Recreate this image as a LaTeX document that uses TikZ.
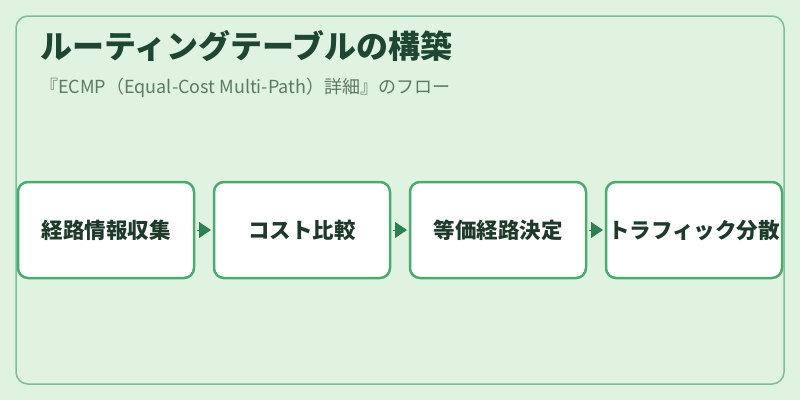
\documentclass[tikz,border=0pt]{standalone}
\usepackage{fontspec}
\setmainfont{Noto Sans CJK JP}
\usetikzlibrary{positioning, arrows.meta}
\definecolor{bgcol}{HTML}{E0F2E0}
\definecolor{framecol}{HTML}{7DBE96}
\definecolor{boxcol}{HTML}{4CAA6E}
\definecolor{arrowcol}{HTML}{2E8050}
\definecolor{titlecol}{HTML}{1E4632}
\definecolor{subcol}{HTML}{5B7B65}
\definecolor{textcol}{HTML}{1E3A2A}

\begin{document}
\begin{tikzpicture}[
  x=1pt, y=1pt,
  node distance=20pt,
  stage/.style={rectangle, rounded corners=10pt, draw=boxcol, fill=white,
    line width=2.5pt, minimum width=176pt, minimum height=96pt, outer sep=0pt,
    inner sep=0pt, text=textcol, font=\fontsize{21.5}{26}\selectfont\bfseries},
  flow/.style={-{Triangle[length=12pt, width=16pt]}, line width=1pt,
    draw=arrowcol, fill=arrowcol, shorten >=3pt, shorten <=3pt}
]
  % Background and frame
  \fill[bgcol] (0,0) rectangle (800,-400);
  \useasboundingbox (0,0) rectangle (800,-400);
  \draw[framecol, line width=1.5pt, rounded corners=12pt] (16,-16) rectangle (784,-384);

  % Titles
  \node[anchor=west, inner sep=0pt, text=titlecol,
    font=\fontsize{32}{38}\selectfont\bfseries] (title) at (40,-46) {ルーティングテーブルの構築};
  \node[anchor=west, inner sep=0pt, text=subcol,
    font=\fontsize{18}{22}\selectfont] (sub) at (40,-88) {『ECMP（Equal-Cost Multi-Path）詳細』のフロー};

  % Nodes
  \node[stage] (collect) at (106,-230) {経路情報収集};
  \node[stage, right=of collect] (compare) {コスト比較};
  \node[stage, right=of compare] (equal) {等価経路決定};
  \node[stage, right=of equal] (spread) {トラフィック分散};

  % Flow
  \draw[flow] (collect) -- (compare);
  \draw[flow] (compare) -- (equal);
  \draw[flow] (equal) -- (spread);
\end{tikzpicture}
\end{document}
